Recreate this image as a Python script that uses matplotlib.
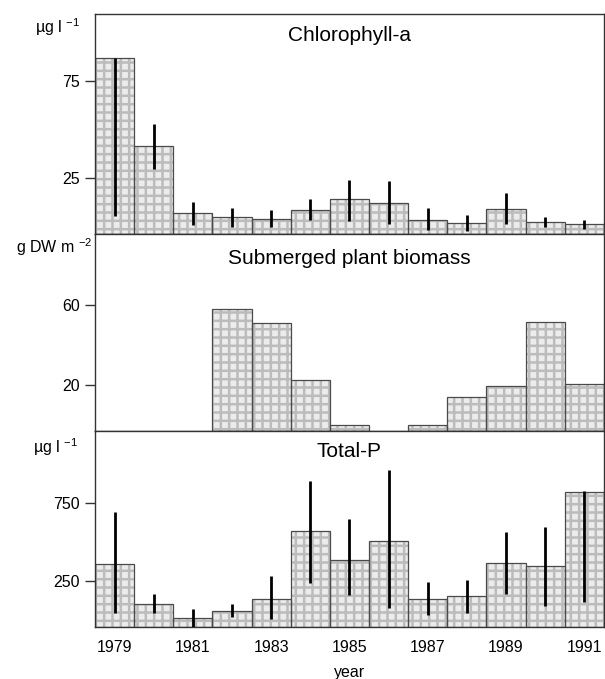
import matplotlib
matplotlib.use("Agg")
import matplotlib.pyplot as plt

plt.rcParams["font.family"] = ["Liberation Sans", "DejaVu Sans"]
plt.rcParams["mathtext.fontset"] = "custom"
plt.rcParams["mathtext.rm"] = "Liberation Sans"
plt.rcParams["hatch.linewidth"] = 1.8

years = list(range(1979, 1992))

# Chlorophyll-a (ug/l): bar value, range low, range high
chl = [86.9, 41.5, 6.9, 4.5, 3.5, 8.3, 14.0, 11.9, 3.3, 1.4, 9.0, 1.9, 0.9]
chl_lo = [5.2, 29.4, 0.5, -0.4, -0.4, 3.1, 2.7, 1.0, -2.1, -2.4, 1.0, -0.5, -1.6]
chl_hi = [86.9, 52.7, 12.3, 9.2, 8.3, 14.0, 23.8, 23.3, 9.3, 5.7, 17.3, 4.8, 3.1]

# Submerged plant biomass (g DW/m2), None = no bar
macro = [None, None, None, 58.2, 51.0, 22.5, 0.0, None, 0.3, 14.3, 19.6, 51.5, 20.5]

# Total-P (ug/l)
tp = [355, 101, 14, 55, 135, 567, 386, 503, 135, 152, 361, 342, 818]
tp_lo = [46, 46, -43, 17, 8, 233, 159, 74, 29, 46, 163, 91, 116]
tp_hi = [690, 165, 68, 100, 284, 886, 645, 960, 242, 254, 560, 592, 822]

fig = plt.figure(figsize=(6.05, 6.79), dpi=100)
ax1 = fig.add_axes([0.157, 0.6558, 0.841, 0.3236])
ax2 = fig.add_axes([0.157, 0.3648, 0.841, 0.2910])
ax3 = fig.add_axes([0.157, 0.0761, 0.841, 0.2887])


def draw_panel(ax, vals, ylim, ticks, title, ty, lo=None, hi=None):
    base = ylim[0]
    xs = [y for y, v in zip(years, vals) if v is not None]
    hs = [v - base for v in vals if v is not None]
    # textured fill, then outline on top
    ax.bar(xs, hs, bottom=base, width=1.0, facecolor="#ececec",
           edgecolor="#bcbcbc", linewidth=0, hatch="++")
    ax.bar(xs, hs, bottom=base, width=1.0, facecolor="none",
           edgecolor="#4a4a4a", linewidth=0.9)
    if lo is not None:
        ax.vlines(years, lo, hi, color="black", linewidth=2.0, zorder=3)
    ax.set_xlim(1978.5, 1991.5)
    ax.set_ylim(*ylim)
    ax.set_yticks(ticks)
    ax.tick_params(axis="y", direction="out", length=7, width=1,
                   labelsize=11.5, pad=4, color="#333333")
    ax.tick_params(axis="x", length=0)
    for s in ax.spines.values():
        s.set_color("#333333")
        s.set_linewidth(1.0)
    ax.text(0.5, ty, title, transform=ax.transAxes, ha="center",
            va="center", fontsize=15)


draw_panel(ax1, chl, (-4.0, 109.8), [25, 75], "Chlorophyll-a", 0.904,
           chl_lo, chl_hi)
draw_panel(ax2, macro, (-3.1, 96.0), [20, 60], "Submerged plant biomass",
           0.876)
draw_panel(ax3, tp, (-47, 1205), [250, 750], "Total-P", 0.896, tp_lo, tp_hi)

ax1.set_xticklabels([])
ax2.set_xticklabels([])
ax3.set_xticks(years[::2])
ax3.tick_params(axis="x", labelsize=11.5, pad=9)

fig.text(80 / 605, 1 - 27 / 679, "µg l $^{-1}$", ha="right", va="center",
         fontsize=11.5)
fig.text(93 / 605, 1 - 247 / 679, "g DW m $^{-2}$", ha="right", va="center",
         fontsize=11.5)
fig.text(78 / 605, 1 - 447 / 679, "µg l $^{-1}$", ha="right", va="center",
         fontsize=11.5)
fig.text(350 / 605, 1 - 673 / 679, "year", ha="center", va="center",
         fontsize=11.5)

fig.savefig("out.png", dpi=100)
